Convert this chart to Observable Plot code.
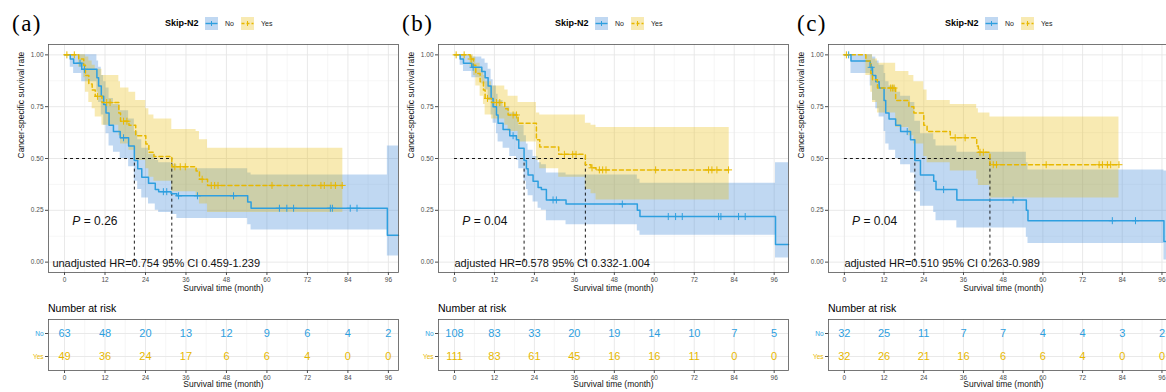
<!DOCTYPE html>
<html>
<head>
<meta charset="utf-8">
<script src="https://cdn.jsdelivr.net/npm/d3@7"></script>
<script src="https://cdn.jsdelivr.net/npm/@observablehq/plot@0.6"></script>
<style>
  html, body { margin: 0; padding: 0; background: #fff; }
  #root { position: relative; width: 1166px; height: 392px; overflow: hidden; font-family: "Liberation Sans", Arial, sans-serif; color: #000; }
  .abs { position: absolute; white-space: nowrap; }
  .plabel { font-family: "Liberation Serif", "Times New Roman", serif; font-size: 23px; line-height: 23px; letter-spacing: 1.5px; }
  .legtitle { font-size: 9px; line-height: 9px; font-weight: bold; }
  .legtext { font-size: 7px; line-height: 7px; color: #222; }
  .risktitle { font-size: 10.5px; line-height: 10.5px; }
</style>
</head>
<body>
<div id="root"></div>
<script>
// ---------- data ----------
const panelLabels = ["(a)", "(b)", "(c)"];
const groups = ["No", "Yes"];
const legendTitle = "Skip-N2";
const xTicks = [0, 12, 24, 36, 48, 60, 72, 84, 96];
const xMinor = [6, 18, 30, 42, 54, 66, 78, 90];
const yTicks = [0, 0.25, 0.5, 0.75, 1];
const yMinor = [0.125, 0.375, 0.625, 0.875];
const riskMonths = [0, 12, 24, 36, 48, 60, 72, 84, 96];
const pValues = ["0.26", "0.04", "0.04"];
const hrTexts = [
  "unadjusted HR=0.754 95% CI 0.459-1.239",
  "adjusted HR=0.578 95% CI 0.332-1.004",
  "adjusted HR=0.510 95% CI 0.263-0.989"
];

// Panel (a)
const aNoTime = [0, 1.7, 2.7, 5.1, 9.6, 10.1, 10.9, 11.6, 12.3, 13.2, 14.5, 16.5, 19.0, 20.7, 21.7, 22.9, 24.9, 26.9, 27.9, 31.6, 33.3, 54.3, 55.3, 95.7, 99.0];
const aNoSurv = [1, .98, .96, .93, .89, .85, .80, .76, .72, .66, .63, .60, .56, .49, .45, .41, .38, .35, .34, .33, .32, .29, .26, .13, .13];
const aNoLow  = [1, .94, .91, .87, .82, .77, .71, .66, .62, .56, .53, .50, .46, .39, .35, .31, .28, .25, .24, .23, .21, .18, .155, .03, .03];
const aNoHigh = [1, 1, 1, 1, .97, .94, .90, .87, .84, .79, .76, .73, .69, .63, .59, .55, .52, .49, .48, .47, .45, .43, .42, .56, .56];
const aNoCensor = [4.6, 5.9, 17.5, 29.3, 30.3, 33.8, 39.4, 50.1, 63.7, 65.9, 67.9, 78.8, 79.4, 84.7, 86.7];
const aYesTime = [0, 4.2, 5.7, 6.2, 7.2, 8.2, 9.1, 11.1, 16.1, 16.6, 19.1, 21.1, 24.1, 25.0, 26.5, 31.8, 39.0, 40.0, 42.4, 82.5];
const aYesSurv = [1, .98, .95, .90, .86, .83, .80, .77, .72, .68, .66, .61, .57, .53, .51, .46, .44, .40, .37, .37];
const aYesLow  = [1, .94, .89, .82, .77, .74, .70, .66, .61, .57, .54, .49, .45, .41, .39, .34, .32, .28, .24, .24];
const aYesHigh = [1, 1, 1, .99, .97, .95, .93, .90, .87, .84, .82, .78, .74, .71, .69, .64, .63, .59, .55, .55];
const aYesCensor = [0.7, 2.9, 9.8, 12.5, 13.5, 17.5, 18.5, 32.7, 34.3, 35.8, 40.8, 43.5, 44.5, 45.5, 61.5, 76.0, 77.0, 79.0, 80.3, 82.3];
const aRiskNo  = [63, 48, 20, 13, 12, 9, 6, 4, 2];
const aRiskYes = [49, 36, 24, 17, 6, 6, 4, 0, 0];

// Panel (b)
const bNoTime = [0, 1.7, 2.7, 5.2, 8.2, 9.2, 10.1, 11.0, 11.6, 12.6, 13.1, 14.6, 16.6, 18.6, 19.3, 20.9, 21.6, 22.1, 23.6, 25.1, 26.1, 27.6, 33.5, 54.9, 55.7, 96.4, 100.3];
const bNoSurv = [1, .98, .96, .94, .92, .89, .85, .79, .75, .71, .67, .64, .61, .59, .55, .49, .45, .42, .39, .36, .35, .30, .28, .25, .22, .085, .085];
const bNoLow  = [1, .95, .92, .89, .86, .83, .78, .71, .67, .62, .58, .55, .51, .49, .45, .39, .35, .32, .29, .26, .25, .20, .18, .15, .13, .02, .02];
const bNoHigh = [1, 1, 1, .99, .98, .96, .93, .88, .85, .81, .78, .75, .72, .70, .66, .61, .57, .54, .51, .48, .47, .43, .42, .40, .38, .48, .48];
const bNoCensor = [5.6, 17.6, 29.6, 30.6, 50.4, 64.2, 66.4, 68.4, 79.3, 80.0, 85.3, 87.3];
const bYesTime = [0, 4.7, 5.7, 6.4, 7.7, 8.7, 9.2, 11.1, 15.1, 16.1, 19.1, 24.6, 25.6, 31.3, 39.3, 41.0, 42.5, 82.5];
const bYesSurv = [1, .98, .95, .91, .87, .83, .79, .77, .74, .71, .67, .59, .555, .52, .47, .455, .445, .445];
const bYesLow  = [1, .94, .90, .85, .80, .76, .71, .69, .66, .63, .58, .49, .45, .41, .35, .33, .30, .30];
const bYesHigh = [1, 1, .99, .96, .93, .90, .87, .85, .83, .80, .77, .72, .71, .71, .67, .66, .65, .65];
const bYesCensor = [0.5, 2.9, 5.0, 9.9, 12.6, 13.6, 17.6, 18.6, 33.0, 35.5, 36.5, 41.3, 43.5, 44.5, 45.5, 60.4, 76.3, 77.3, 78.8, 82.3];
const bRiskNo  = [108, 83, 33, 20, 19, 14, 10, 7, 5];
const bRiskYes = [111, 83, 61, 45, 16, 16, 11, 0, 0];

// Panel (c)
const cNoTime = [0, 2.0, 7.8, 8.5, 9.5, 10.5, 12.0, 12.5, 13.5, 15.5, 17.0, 20.0, 21.3, 23.0, 27.0, 27.7, 34.0, 55.0, 55.5, 96.6, 101.0];
const cNoSurv = [1, .97, .94, .90, .87, .84, .78, .72, .69, .66, .63, .59, .49, .42, .39, .35, .30, .25, .20, .10, .10];
const cNoLow  = [1, .91, .85, .78, .74, .70, .63, .57, .54, .50, .47, .43, .34, .27, .24, .20, .165, .12, .09, .01, .01];
const cNoHigh = [1, 1, 1, .99, .97, .95, .91, .87, .85, .82, .80, .77, .68, .62, .59, .56, .53, .48, .445, .44, .44];
const cNoCensor = [1.3, 8.1, 19.0, 30.0, 51.0, 81.0, 88.0];
const cYesTime = [0, 6.5, 8.0, 8.5, 10.0, 15.5, 19.5, 21.0, 24.0, 25.0, 32.0, 40.0, 40.5, 44.0, 83.0];
const cYesSurv = [1, .97, .91, .88, .84, .78, .75, .72, .66, .63, .60, .56, .53, .47, .47];
const cYesLow  = [1, .90, .82, .77, .72, .65, .61, .57, .51, .48, .44, .40, .37, .31, .31];
const cYesHigh = [1, 1, 1, .98, .96, .92, .90, .87, .83, .78, .76, .74, .72, .70, .70];
const cYesCensor = [0.6, 14.0, 14.5, 15.0, 33.5, 36.5, 41.0, 42.0, 45.0, 46.0, 61.0, 77.0, 78.0, 79.5, 80.5, 83.0];
const cRiskNo  = [32, 25, 11, 7, 7, 4, 4, 3, 2];
const cRiskYes = [32, 26, 21, 16, 6, 6, 4, 0, 0];

// ---------- styling / layout ----------
const BLUE = "#2E9FDF", YELLOW = "#E7B800";
const BLUE_BAND = "#4A90D9";
const FONT = "'Liberation Sans', Arial, sans-serif";
const STYLE = {background: "transparent", overflow: "visible", maxWidth: "none", fontFamily: FONT};
const GRID_MINOR = {stroke: "#f0f0f0", strokeOpacity: 1, strokeWidth: 0.6};
const GRID_MAJOR = {stroke: "#e6e6e6", strokeOpacity: 1, strokeWidth: 0.9};

const panels = [
  {off: 0,   lblOff: 12, hrX: -3.6, xDomain: [-4.75, 99.0],
   no: [aNoTime, aNoSurv, aNoLow, aNoHigh, aNoCensor], yes: [aYesTime, aYesSurv, aYesLow, aYesHigh, aYesCensor],
   riskNo: aRiskNo, riskYes: aRiskYes},
  {off: 390, lblOff: 12, hrX: 0, xDomain: [-4.8, 100.3],
   no: [bNoTime, bNoSurv, bNoLow, bNoHigh, bNoCensor], yes: [bYesTime, bYesSurv, bYesLow, bYesHigh, bYesCensor],
   riskNo: bRiskNo, riskYes: bRiskYes},
  {off: 780, lblOff: 17, hrX: 0, xDomain: [-4.8, 101.0],
   no: [cNoTime, cNoSurv, cNoLow, cNoHigh, cNoCensor], yes: [cYesTime, cYesSurv, cYesLow, cYesHigh, cYesCensor],
   riskNo: cRiskNo, riskYes: cRiskYes}
];

function rows([T, S, L, H]) { return T.map((t, i) => ({t, s: S[i], lo: L[i], hi: H[i]})); }
function survAt(rs, t) { let s = 1; for (const r of rs) if (r.t <= t) s = r.s; return s; }

function kmPlot(cfg, i) {
  const no = rows(cfg.no), yes = rows(cfg.yes);
  const meds = [no.find(r => r.s < 0.5).t, yes.find(r => r.s < 0.5).t];
  const censNo = cfg.no[4].map(t => ({t, s: survAt(no, t)}));
  const censYes = cfg.yes[4].map(t => ({t, s: survAt(yes, t)}));
  return Plot.plot({
    width: 400, height: 296,
    marginLeft: 48, marginRight: 2, marginTop: 44, marginBottom: 24,
    style: STYLE,
    x: {domain: cfg.xDomain, label: null},
    y: {domain: [-0.05, 1.05], label: null},
    marks: [
      Plot.gridX(xMinor, GRID_MINOR),
      Plot.gridY(yMinor, GRID_MINOR),
      Plot.gridX(xTicks, GRID_MAJOR),
      Plot.gridY(yTicks, GRID_MAJOR),
      Plot.areaY(no, {x: "t", y1: "lo", y2: "hi", curve: "step-after", fill: BLUE_BAND, fillOpacity: 0.35}),
      Plot.areaY(yes, {x: "t", y1: "lo", y2: "hi", curve: "step-after", fill: YELLOW, fillOpacity: 0.3}),
      Plot.text([hrTexts[i]], {x: cfg.hrX, y: 0, dy: 1, textAnchor: "start", fontSize: 11, fill: "#111", text: d => d}),
      Plot.text(["P"], {x: 2.3, y: 0.2, textAnchor: "start", fontSize: 12, fontStyle: "italic", fill: "#111", text: d => d}),
      Plot.text(["= " + pValues[i]], {x: 2.3, y: 0.2, dx: 11.5, textAnchor: "start", fontSize: 12, fill: "#111", text: d => d}),
      Plot.ruleY([0.5], {x1: 0, x2: Math.max(...meds), stroke: "#000", strokeWidth: 0.9, strokeDasharray: "3,3"}),
      Plot.ruleX(meds, {y1: 0, y2: 0.5, stroke: "#000", strokeWidth: 0.9, strokeDasharray: "3,3"}),
      Plot.line(no, {x: "t", y: "s", curve: "step-after", stroke: BLUE, strokeWidth: 1.5}),
      Plot.line(yes, {x: "t", y: "s", curve: "step-after", stroke: YELLOW, strokeWidth: 1.5, strokeDasharray: "4,3"}),
      Plot.dot(censNo, {x: "t", y: "s", symbol: "plus", r: 2.4, stroke: BLUE, strokeWidth: 1}),
      Plot.dot(censYes, {x: "t", y: "s", symbol: "plus", r: 2.4, stroke: YELLOW, strokeWidth: 1}),
      Plot.frame({stroke: "#555", strokeWidth: 0.8}),
      Plot.axisX({ticks: xTicks, tickSize: 3, tickPadding: 2, fontSize: 6.5, color: "#4d4d4d", label: null}),
      Plot.axisY({ticks: yTicks, tickSize: 3, tickPadding: 2, fontSize: 6.5, color: "#4d4d4d", tickFormat: d3.format(".2f"), label: null}),
      Plot.text(["Survival time (month)"], {frameAnchor: "bottom", dy: 18, fontSize: 8.5, fill: "#111", text: d => d}),
      Plot.text(["Cancer-specific survival rate"], {frameAnchor: "left", dx: -27, rotate: -90, fontSize: 8.5, fill: "#111", text: d => d})
    ]
  });
}

function riskPlot(cfg) {
  const rNo = riskMonths.map((t, k) => ({t, g: "No", n: cfg.riskNo[k]}));
  const rYes = riskMonths.map((t, k) => ({t, g: "Yes", n: cfg.riskYes[k]}));
  return Plot.plot({
    width: 400, height: 78,
    marginLeft: 48, marginRight: 2, marginTop: 5, marginBottom: 22,
    style: STYLE,
    x: {domain: cfg.xDomain, label: null},
    y: {type: "point", domain: groups, padding: 0.6, label: null},
    marks: [
      Plot.gridX(xMinor, GRID_MINOR),
      Plot.gridX(xTicks, GRID_MAJOR),
      Plot.gridY(groups, GRID_MAJOR),
      Plot.text(rNo, {x: "t", y: "g", text: d => String(d.n), fill: BLUE, fontSize: 11}),
      Plot.text(rYes, {x: "t", y: "g", text: d => String(d.n), fill: YELLOW, fontSize: 11}),
      Plot.frame({stroke: "#555", strokeWidth: 0.8}),
      Plot.axisX({ticks: xTicks, tickSize: 3, tickPadding: 2, fontSize: 6.5, color: "#4d4d4d", label: null}),
      Plot.axisY({ticks: groups, tickSize: 3, tickFormat: () => "", color: "#4d4d4d", label: null}),
      Plot.text(["No"], {y: d => d, frameAnchor: "left", dx: -5, textAnchor: "end", fill: BLUE, fontSize: 6.5, text: d => d}),
      Plot.text(["Yes"], {y: d => d, frameAnchor: "left", dx: -5, textAnchor: "end", fill: YELLOW, fontSize: 6.5, text: d => d}),
      Plot.text(["Survival time (month)"], {frameAnchor: "bottom", dy: 16.7, fontSize: 8.5, fill: "#111", text: d => d})
    ]
  });
}

function swatch(color, band, dashed) {
  const svg = d3.create("svg").attr("width", 13).attr("height", 13).style("display", "block");
  svg.append("rect").attr("width", 13).attr("height", 13).attr("fill", band).attr("fill-opacity", dashed ? 0.3 : 0.35);
  svg.append("line").attr("x1", 0.5).attr("x2", 12.5).attr("y1", 6.5).attr("y2", 6.5)
    .attr("stroke", color).attr("stroke-width", 1.4).attr("stroke-dasharray", dashed ? "3,2" : null);
  svg.append("line").attr("x1", 6.5).attr("x2", 6.5).attr("y1", 4).attr("y2", 9)
    .attr("stroke", color).attr("stroke-width", 1);
  return svg.node();
}

function place(node, left, top, cls) {
  const div = document.createElement("div");
  div.className = "abs" + (cls ? " " + cls : "");
  div.style.left = left + "px";
  div.style.top = top + "px";
  if (typeof node === "string") div.textContent = node; else div.appendChild(node);
  root.appendChild(div);
  return div;
}

const root = document.getElementById("root");
panels.forEach((cfg, i) => {
  const o = cfg.off;
  place(kmPlot(cfg, i), o, 0);
  place(riskPlot(cfg), o, 314);
  place(panelLabels[i], o + cfg.lblOff, 12, "plabel");
  place(legendTitle, o + 165, 19, "legtitle");
  place(swatch(BLUE, BLUE_BAND, false), o + 205, 17);
  place(groups[0], o + 225, 20, "legtext");
  place(swatch(YELLOW, YELLOW, true), o + 241, 17);
  place(groups[1], o + 261, 20, "legtext");
  place("Number at risk", o + 48, 303, "risktitle");
});
</script>
</body>
</html>
